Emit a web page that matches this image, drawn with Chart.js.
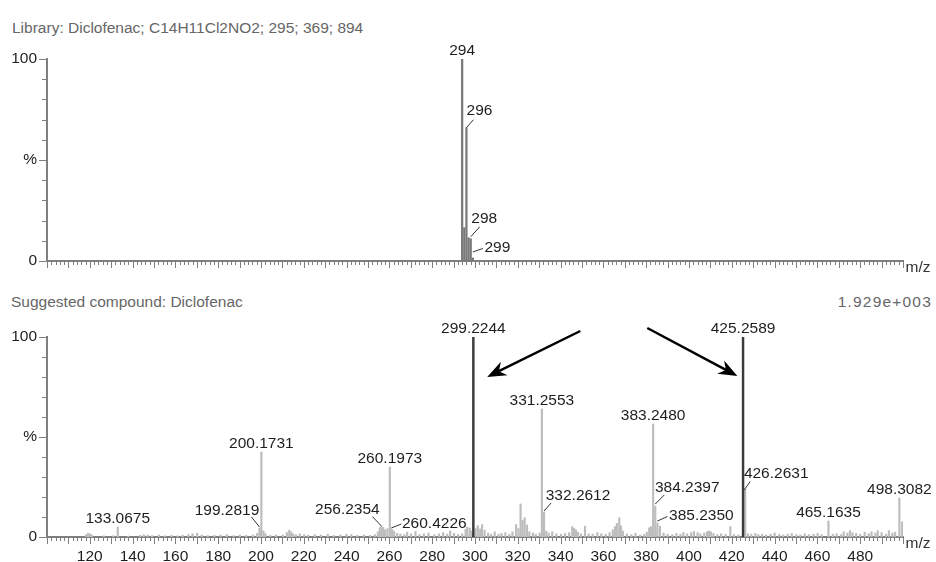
<!DOCTYPE html>
<html>
<head>
<meta charset="utf-8">
<script src="https://cdn.jsdelivr.net/npm/chart.js@4.4.0/dist/chart.umd.min.js"></script>
<style>
  html, body { margin: 0; padding: 0; background: #fff; width: 936px; height: 562px; overflow: hidden; }
  #wrap { position: relative; width: 936px; height: 562px; font-family: "Liberation Sans", Arial, sans-serif; }
  canvas { position: absolute; left: 0; }
  .hdr { position: absolute; font-size: 15.5px; color: #666; white-space: nowrap; line-height: 18px; }
</style>
</head>
<body>
<div id="wrap">
  <div class="hdr" style="left:12px;top:19px">Library: Diclofenac; C14H11Cl2NO2; 295; 369; 894</div>
  <div class="hdr" style="left:11px;top:293px">Suggested compound: Diclofenac</div>
  <div class="hdr" style="right:4px;top:293px;letter-spacing:1.2px">1.929e+003</div>
  <canvas id="lib" width="936" height="281" style="top:0"></canvas>
  <canvas id="smp" width="936" height="281" style="top:281px"></canvas>
</div>
<script>
// ---- m/z range and tick labels ----
const MZ_MIN = 100, MZ_MAX = 500;
const mzTickLabels = [120, 140, 160, 180, 200, 220, 240, 260, 280, 300, 320, 340, 360, 380, 400, 420, 440, 460, 480];

// ---- library spectrum (relative intensity, %) ----
const libMz  = [294, 295, 296, 297, 298, 299];
const libInt = [100, 16.5, 66, 11.5, 11, 1.5];
const libLabelMz = [294, 296, 298, 299];

// ---- measured spectrum: annotated peaks ----
const peakMz  = [133.0675, 199.2819, 200.1731, 256.2354, 260.1973, 260.4226, 299.2244, 331.2553,
                 332.2612, 383.2480, 384.2397, 385.2350, 425.2589, 426.2631, 465.1635, 498.3082];
const peakInt = [5, 4.5, 42.5, 5.5, 35, 4, 100, 64,
                 12.5, 56.5, 15.5, 7, 100, 24, 8, 19.5];
// peaks drawn dark
const highlightMz = [299.2244, 425.2589];

// ---- measured spectrum: minor peaks ----
const minorMz = [118.3, 119.2, 120.1, 121.0, 126.5, 131.0, 138.0, 143.5, 145.2, 147.0, 149.1, 152.3, 155.0, 158.2,
  161.0, 163.4, 166.1, 168.0, 170.2, 172.3, 175.1, 178.2, 181.1, 184.0, 187.2, 190.1, 193.0, 196.2, 198.2, 199.6,
  201.2, 202.1, 204.3, 207.0, 210.2, 212.1, 213.2, 214.1, 215.0, 216.3, 218.1, 220.2, 222.0, 225.1, 228.0, 231.2,
  234.0, 237.1, 240.0, 242.2, 245.0, 248.1, 251.0, 253.2, 254.6, 255.5, 257.1, 258.0, 259.1, 261.3, 262.2, 263.6,
  265.1, 267.0, 268.3, 270.1, 272.2, 274.0, 276.1, 278.3, 281.0, 283.2, 285.1, 287.0, 288.4, 290.2, 292.1, 294.0,
  295.6, 296.4, 297.5, 298.3, 300.3, 301.3, 302.4, 303.3, 304.5, 306.1, 307.5, 309.2, 311.0, 312.4, 314.2, 316.0,
  317.5, 319.2, 320.3, 321.3, 322.2, 323.2, 324.3, 325.4, 327.1, 328.4, 330.2, 333.3, 334.4, 336.1, 338.0, 340.2,
  342.1, 344.0, 345.4, 346.3, 347.2, 348.1, 349.5, 351.4, 353.1, 355.0, 357.2, 359.0, 361.1, 362.9, 364.4, 365.4,
  366.3, 367.4, 368.2, 369.1, 371.0, 373.1, 375.0, 377.2, 379.1, 380.3, 381.4, 382.3, 386.4, 388.1, 390.0, 392.2,
  394.1, 396.0, 397.4, 399.1, 401.0, 402.3, 404.0, 405.3, 407.1, 408.4, 409.3, 410.2, 411.4, 413.2, 415.0, 417.1,
  419.3, 421.0, 423.0, 427.5, 429.1, 431.0, 432.4, 434.2, 436.0, 438.1, 440.0, 442.2, 444.0, 446.1, 448.0, 450.2,
  452.0, 454.1, 456.0, 458.2, 460.1, 462.0, 467.2, 469.0, 471.1, 472.3, 474.0, 475.2, 476.4, 478.1, 480.0, 482.1,
  484.0, 485.3, 487.1, 488.2, 490.0, 492.1, 493.4, 495.0, 496.3, 499.6];
const minorInt = [1.2, 1.8, 1.6, 1.0, 0.6, 0.6, 0.5, 0.8, 1.2, 1.0, 0.7, 1.0, 0.6, 0.8,
  0.6, 0.9, 1.2, 1.6, 1.9, 1.0, 0.7, 0.8, 1.0, 1.2, 0.7, 1.0, 0.8, 1.0, 1.8, 3.2,
  3.0, 1.6, 0.8, 1.0, 1.0, 2.2, 3.4, 2.6, 1.6, 1.2, 1.6, 1.2, 0.9, 1.2, 1.0, 1.4,
  0.8, 1.0, 1.4, 1.2, 0.8, 1.0, 0.8, 1.2, 2.6, 4.6, 4.8, 3.6, 4.2, 3.8, 2.8, 1.8,
  1.5, 1.2, 2.4, 1.6, 2.8, 1.2, 1.6, 2.0, 1.2, 1.6, 2.2, 1.4, 3.0, 1.8, 1.2, 1.6,
  3.8, 5.0, 4.4, 3.0, 4.2, 5.6, 4.0, 6.2, 3.4, 2.0, 1.4, 2.6, 1.4, 1.8, 2.2, 1.4,
  2.6, 6.2, 4.2, 16.5, 8.4, 9.6, 6.0, 2.6, 2.0, 1.4, 2.0, 3.0, 2.0, 2.6, 1.6, 1.4,
  1.8, 2.2, 5.2, 4.4, 3.6, 2.4, 1.6, 5.4, 1.6, 1.4, 2.2, 1.6, 1.4, 2.2, 3.6, 5.2,
  6.8, 9.6, 5.6, 3.0, 1.6, 1.2, 1.8, 1.0, 1.4, 2.4, 4.6, 5.2, 5.4, 2.0, 1.4, 1.2,
  1.8, 1.4, 2.2, 1.6, 2.2, 2.8, 2.2, 1.6, 2.0, 2.6, 3.0, 2.6, 1.8, 1.2, 1.6, 1.4,
  5.2, 1.2, 1.0, 1.6, 1.4, 1.8, 1.2, 1.4, 1.0, 1.4, 2.0, 1.4, 1.0, 1.4, 1.8, 1.2,
  1.0, 1.6, 1.2, 1.4, 1.8, 1.2, 1.4, 1.6, 1.2, 2.6, 2.0, 3.2, 2.2, 1.8, 1.4, 2.4,
  1.6, 2.6, 2.0, 3.2, 2.2, 1.4, 3.2, 2.0, 2.4, 7.6];

// ---- arrows pointing at the two main peaks (data coordinates: m/z, %) ----
const arrowFrom = [[349.2, 103], [380.5, 104.5]];
const arrowTo   = [[305.7, 80], [422.6, 80.5]];

// ---- styling ----
const FONT = '"Liberation Sans", Arial, sans-serif';
const AXIS_GRAY = '#7f7f7f';
const TEXT = '#1e1e1e';
// label placement (pixels): [text dx, text dy, leader x0, y0, x1, y1] relative to the peak top
const labelOffsets = {
  '296': [13, -18, 0, 0, 7, -8],
  '298': [13.5, -21, 0, -2, 9, -12],
  '299': [24.5, -11, 0, -6, 10, -9.5],
  '199.2819': [-32.5, -19, 0, -1, -8, -11],
  '256.2354': [-34, -17.5, 0, 0, -9, -9.5],
  '260.4226': [44, -6.5, 1, -1, 11, -5],
  '332.2612': [34, -18, 0, -1, 7, -9],
  '384.2397': [32, -19.5, 0, -2, 9, -11],
  '385.2350': [44, -8.5, 0, -2, 10, -6.5],
  '426.2631': [31, -16.5, -1, 1, 5, -7.5]
};

function pts(xs, ys) { return xs.map((x, i) => ({ x: x, y: ys[i] })); }

function makeDecor(labels, arrows) {
  return {
    id: 'spectrumDecor',
    afterDraw(chart) {
      const { ctx, chartArea, scales: { x, y } } = chart;
      ctx.save();
      // minor / major tick marks
      ctx.strokeStyle = AXIS_GRAY;
      ctx.lineWidth = 1;
      ctx.beginPath();
      for (let v = MZ_MIN; v <= MZ_MAX; v += 2) {
        const px = Math.round(x.getPixelForValue(v)) + 0.5;
        const len = v % 10 === 0 ? 6 : 3;
        ctx.moveTo(px, chartArea.bottom + 1);
        ctx.lineTo(px, chartArea.bottom + 1 + len);
      }
      for (let v = 0; v <= 100; v += 10) {
        const py = Math.round(y.getPixelForValue(v)) + 0.5;
        const len = v % 50 === 0 ? 7 : 4;
        ctx.moveTo(chartArea.left - 1, py);
        ctx.lineTo(chartArea.left - 1 - len, py);
      }
      ctx.stroke();

      // axis unit
      ctx.fillStyle = '#333';
      ctx.font = '15.5px ' + FONT;
      ctx.textAlign = 'center';
      ctx.textBaseline = 'alphabetic';
      ctx.fillText('m/z', 918, chartArea.bottom + 11);

      // peak annotations
      ctx.fillStyle = TEXT;
      ctx.strokeStyle = '#333';
      labels.forEach(l => {
        const px = x.getPixelForValue(l.mz);
        const py = y.getPixelForValue(l.int);
        const off = labelOffsets[l.text];
        let cx = px, cy = py - 9.5;
        if (off) {
          cx = px + off[0]; cy = py + off[1];
          ctx.beginPath();
          ctx.moveTo(px + off[2], py + off[3]);
          ctx.lineTo(px + off[4], py + off[5]);
          ctx.stroke();
        }
        ctx.fillText(l.text, cx, cy + 5.5);
      });

      // arrows
      ctx.fillStyle = '#000';
      ctx.strokeStyle = '#000';
      ctx.lineWidth = 2.5;
      arrows.forEach(a => {
        const x0 = x.getPixelForValue(a.from[0]), y0 = y.getPixelForValue(a.from[1]);
        const x1 = x.getPixelForValue(a.to[0]),   y1 = y.getPixelForValue(a.to[1]);
        const L = Math.hypot(x1 - x0, y1 - y0);
        const ux = (x1 - x0) / L, uy = (y1 - y0) / L;
        const nx = -uy, ny = ux;
        const headLen = 19, half = 7.5, notch = 13;
        ctx.beginPath();
        ctx.moveTo(x0, y0);
        ctx.lineTo(x1 - ux * notch, y1 - uy * notch);
        ctx.stroke();
        ctx.beginPath();
        ctx.moveTo(x1, y1);
        ctx.lineTo(x1 - ux * headLen + nx * half, y1 - uy * headLen + ny * half);
        ctx.lineTo(x1 - ux * notch, y1 - uy * notch);
        ctx.lineTo(x1 - ux * headLen - nx * half, y1 - uy * headLen - ny * half);
        ctx.closePath();
        ctx.fill();
      });
      ctx.restore();
    }
  };
}

function baseOptions(topPad, xAxisHeight, showXLabels) {
  return {
    responsive: false,
    animation: false,
    devicePixelRatio: 1,
    datasets: { bar: { grouped: false } },
    layout: { padding: { left: 0, right: 33, top: topPad, bottom: 0 } },
    plugins: { legend: { display: false }, tooltip: { enabled: false }, title: { display: false } },
    scales: {
      x: {
        type: 'linear', min: MZ_MIN, max: MZ_MAX, offset: false,
        grid: { display: false, drawTicks: false },
        border: { display: true, color: AXIS_GRAY, width: 2 },
        ticks: {
          display: showXLabels, stepSize: 20, autoSkip: false, maxRotation: 0, padding: 10,
          color: TEXT, font: { family: FONT, size: 15.5 },
          callback: v => mzTickLabels.includes(v) ? String(v) : ''
        },
        afterFit(s) { s.height = xAxisHeight; s.paddingLeft = 0; s.paddingRight = 0; }
      },
      y: {
        min: 0, max: 100,
        grid: { display: false, drawTicks: false },
        border: { display: true, color: AXIS_GRAY, width: 2 },
        ticks: {
          stepSize: 50, padding: 10, color: TEXT, font: { family: FONT, size: 15.5 },
          callback: v => v === 50 ? '%' : String(v)
        },
        afterFit(s) { s.width = 47; }
      }
    }
  };
}

// ---- library spectrum ----
const libLabels = libLabelMz.map(m => ({ mz: m, int: libInt[libMz.indexOf(m)], text: String(m) }));
new Chart(document.getElementById('lib'), {
  type: 'bar',
  data: {
    datasets: [{
      data: pts(libMz, libInt),
      backgroundColor: '#7a7a7a',
      barThickness: 1.6
    }]
  },
  options: baseOptions(59, 20, false),
  plugins: [makeDecor(libLabels, [])]
});

// ---- measured spectrum ----
const lightMz = [], lightInt = [], darkMz = [], darkInt = [];
peakMz.forEach((m, i) => {
  if (highlightMz.includes(m)) { darkMz.push(m); darkInt.push(peakInt[i]); }
  else { lightMz.push(m); lightInt.push(peakInt[i]); }
});
minorMz.forEach((m, i) => { lightMz.push(m); lightInt.push(minorInt[i]); });

const smpLabels = peakMz.map((m, i) => ({ mz: m, int: peakInt[i], text: m.toFixed(4) }));
const smpArrows = arrowFrom.map((f, i) => ({ from: f, to: arrowTo[i] }));

new Chart(document.getElementById('smp'), {
  type: 'bar',
  data: {
    datasets: [
      { data: pts(darkMz, darkInt), backgroundColor: '#3a3a3a', barThickness: 1.8, order: 0 },
      { data: pts(lightMz, lightInt), backgroundColor: '#bdbdbd', barThickness: 1.5, order: 1 }
    ]
  },
  options: baseOptions(56, 25, true),
  plugins: [makeDecor(smpLabels, smpArrows)]
});
</script>
</body>
</html>
